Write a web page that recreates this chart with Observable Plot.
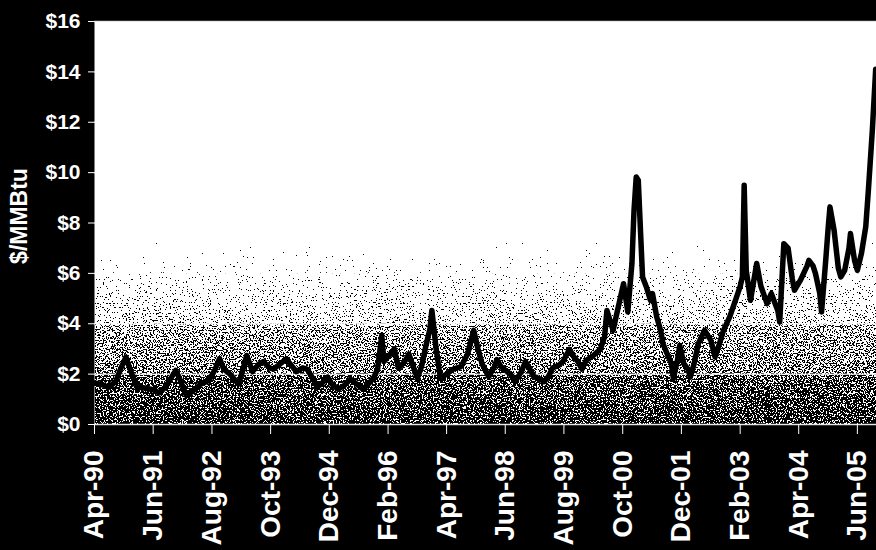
<!DOCTYPE html>
<html>
<head>
<meta charset="utf-8">
<script src="https://cdn.jsdelivr.net/npm/d3@7"></script>
<script src="https://cdn.jsdelivr.net/npm/@observablehq/plot@0.6"></script>
<style>
  html, body { margin: 0; padding: 0; background: #000; }
  #chart svg { display: block; }
</style>
</head>
<body>
<div id="chart"></div>
<script>
const dates = [
  "1990-04-01","1990-05-15","1990-07-15","1990-09-01","1990-10-15","1990-11-15","1990-12-15",
  "1991-02-01","1991-04-01","1991-06-01","1991-07-15","1991-09-01","1991-10-15","1991-11-12","1991-12-12",
  "1992-01-28","1992-03-10","1992-05-10","1992-07-10","1992-08-25","1992-09-25","1992-10-25","1992-12-10",
  "1993-02-10","1993-03-10","1993-04-10","1993-05-23","1993-07-08","1993-08-08","1993-09-23","1993-10-22","1993-12-07",
  "1994-01-22","1994-03-07","1994-04-07","1994-05-22","1994-06-22","1994-08-07","1994-09-05","1994-10-20","1994-11-20","1994-12-20",
  "1995-02-04","1995-03-19","1995-05-04","1995-06-18","1995-08-03","1995-09-18","1995-10-18","1995-11-17","1995-12-17",
  "1996-01-02","1996-02-02","1996-03-17","1996-04-17","1996-06-01","1996-07-01","1996-08-01","1996-09-01","1996-10-01","1996-11-01","1996-12-01","1996-12-15",
  "1997-01-01","1997-01-15","1997-02-15","1997-04-01","1997-05-20","1997-07-15","1997-09-01","1997-10-15","1997-11-15","1997-12-15",
  "1998-02-01","1998-03-15","1998-04-01","1998-05-01","1998-06-15","1998-07-15","1998-08-12","1998-09-26","1998-10-26","1998-11-26","1998-12-26",
  "1999-02-10","1999-03-10","1999-04-10","1999-05-10","1999-06-25","1999-07-25","1999-09-10","1999-10-10","1999-11-10","1999-12-10",
  "2000-01-10","2000-02-23","2000-04-23","2000-05-23","2000-06-08","2000-07-08","2000-07-23","2000-08-23","2000-10-07","2000-11-07","2000-12-07","2000-12-22",
  "2001-01-07","2001-01-22","2001-02-07","2001-02-22","2001-03-22","2001-04-20","2001-05-05","2001-06-05","2001-07-05","2001-07-20","2001-08-20","2001-09-20","2001-10-04","2001-11-04","2001-11-19","2001-12-19",
  "2002-01-18","2002-02-03","2002-03-03","2002-04-03","2002-05-18","2002-07-03","2002-08-03","2002-09-03","2002-10-03","2002-11-17",
  "2003-01-02","2003-02-02","2003-02-17","2003-03-02","2003-03-17","2003-04-17","2003-06-01","2003-07-01","2003-08-15","2003-09-15","2003-11-01","2003-11-15","2003-12-15",
  "2004-01-15","2004-02-14","2004-03-01","2004-04-14","2004-06-01","2004-06-14","2004-07-14","2004-08-01","2004-09-01","2004-09-14","2004-10-14","2004-11-01","2004-11-14","2004-12-14",
  "2005-01-14","2005-02-01","2005-03-01","2005-04-01","2005-04-12","2005-05-12","2005-06-01","2005-07-01","2005-08-01","2005-08-20","2005-09-18","2005-10-12"
];
const prices = [
  1.65,1.60,1.48,1.70,2.30,2.68,2.20,
  1.50,1.45,1.38,1.25,1.50,1.90,2.15,1.80,
  1.15,1.30,1.60,1.75,2.20,2.62,2.20,2.00,
  1.60,2.10,2.74,2.10,2.40,2.50,2.25,2.20,2.40,
  2.60,2.30,2.10,2.25,2.20,1.80,1.48,1.70,1.88,1.60,
  1.40,1.55,1.80,1.60,1.40,1.65,1.84,2.20,3.54,
  2.50,2.70,3.00,2.24,2.50,2.80,2.30,1.84,2.30,3.10,3.80,4.53,
  3.70,3.00,1.84,2.00,2.20,2.30,2.80,3.74,3.00,2.40,
  1.90,2.30,2.58,2.30,2.10,1.95,1.70,2.10,2.50,2.20,1.90,
  1.80,1.70,1.90,2.24,2.35,2.50,2.98,2.70,2.50,2.20,
  2.55,2.70,3.00,3.50,4.53,4.00,3.74,4.50,5.59,4.47,6.40,8.50,
  9.83,9.70,7.70,5.86,5.46,4.93,5.20,4.27,3.70,3.21,2.80,2.41,1.82,2.60,3.14,2.41,
  2.20,1.88,2.40,3.21,3.74,3.34,2.68,3.20,3.74,4.27,
  5.00,5.50,5.86,9.50,6.12,4.93,6.39,5.50,4.80,5.20,4.53,4.07,7.18,
  7.00,5.80,5.33,5.73,6.30,6.52,6.30,5.99,5.20,4.47,6.50,7.80,8.64,7.71,
  6.20,5.86,6.12,7.00,7.58,6.50,6.12,6.80,7.85,9.30,11.70,14.10
];
const xTickDates = ["1990-04-01","1991-06-01","1992-08-01","1993-10-01","1994-12-01","1996-02-01","1997-04-01",
  "1998-06-01","1999-08-01","2000-10-01","2001-12-01","2003-02-01","2004-04-01","2005-06-01"];
const xTickLabels = ["Apr-90","Jun-91","Aug-92","Oct-93","Dec-94","Feb-96","Apr-97",
  "Jun-98","Aug-99","Oct-00","Dec-01","Feb-03","Apr-04","Jun-05"];
const yTicks = [0, 2, 4, 6, 8, 10, 12, 14, 16];
const yTickLabels = ["$0","$2","$4","$6","$8","$10","$12","$14","$16"];
const yTitle = "$/MMBtu";
const xDomain = ["1990-04-01", "2005-10-18"];

const data = dates.map((d, i) => ({date: new Date(d), price: prices[i]}));
const xTicks = xTickDates.map(d => new Date(d));

const chart = Plot.plot({
  width: 876,
  height: 550,
  marginLeft: 94,
  marginRight: 0,
  marginTop: 21,
  marginBottom: 126,
  x: {type: "utc", domain: xDomain.map(d => new Date(d))},
  y: {domain: [0, 16]},
  style: {
    background: "black",
    color: "white",
    fontFamily: "'Liberation Sans', Arial, sans-serif",
    fontWeight: "bold",
    fontSize: "21px",
    overflow: "hidden"
  },
  marks: [
    Plot.frame({fill: "white", stroke: "none"}),
    Plot.frame({fill: "url(#stipGrad)", stroke: "none"}),
    Plot.gridY(yTicks, {stroke: "white", strokeOpacity: 0.8, strokeWidth: 1.5}),
    Plot.line(data, {x: "date", y: "price", stroke: "black", strokeWidth: 5.5, strokeLinejoin: "round", clip: true}),
    Plot.axisY(yTicks, {
      tickFormat: d => yTickLabels[yTicks.indexOf(d)],
      tickSize: 6, tickPadding: 8, fontSize: 21, label: null
    }),
    Plot.axisX(xTicks, {
      tickFormat: d => xTickLabels[xTicks.findIndex(t => +t === +d)],
      tickRotate: -90, tickSize: 10, tickPadding: 16, fontSize: 28, label: null
    }),
    Plot.text([yTitle], {frameAnchor: "left", textAnchor: "middle", rotate: -90, dx: -75, dy: -7, fontSize: 23, fill: "white", fontWeight: "bold"})
  ]
});

// stipple texture: gradient density thresholded against noise
const svg = d3.select(chart);
const defs = svg.insert("defs", ":first-child");
const grad = defs.append("linearGradient").attr("id", "stipGrad")
  .attr("x1", 0).attr("y1", 0).attr("x2", 0).attr("y2", 1);
[[0, 0], [0.48, 0], [0.57, 0.2], [0.65, 0.3], [0.745, 0.37], [0.755, 0.44], [0.87, 0.49], [0.88, 0.54], [1, 0.59]]
  .forEach(([o, a]) => grad.append("stop").attr("offset", o).attr("stop-color", "black").attr("stop-opacity", a));
const filt = defs.append("filter").attr("id", "stipple")
  .attr("x", 0).attr("y", 0).attr("width", 1).attr("height", 1)
  .attr("color-interpolation-filters", "sRGB");
filt.append("feTurbulence").attr("type", "fractalNoise").attr("baseFrequency", 0.7)
  .attr("numOctaves", 2).attr("seed", 7).attr("result", "noise");
filt.append("feColorMatrix").attr("in", "noise").attr("type", "matrix")
  .attr("values", "0 0 0 0 0  0 0 0 0 0  0 0 0 0 0  1 0 0 0 0").attr("result", "na");
filt.append("feComposite").attr("in", "SourceGraphic").attr("in2", "na").attr("operator", "arithmetic")
  .attr("k1", 0).attr("k2", 1).attr("k3", -1).attr("k4", 0.5).attr("result", "diff");
filt.append("feColorMatrix").attr("in", "diff").attr("type", "matrix")
  .attr("values", "0 0 0 0 0  0 0 0 0 0  0 0 0 0 0  0 0 0 1 0").attr("result", "dk");
const ct = filt.append("feComponentTransfer").attr("in", "dk");
ct.append("feFuncA").attr("type", "discrete").attr("tableValues", "0 1");
const frames = chart.querySelectorAll('[aria-label="frame"]');
if (frames.length > 1) frames[1].setAttribute("filter", "url(#stipple)");

document.getElementById("chart").appendChild(chart);
</script>
</body>
</html>
